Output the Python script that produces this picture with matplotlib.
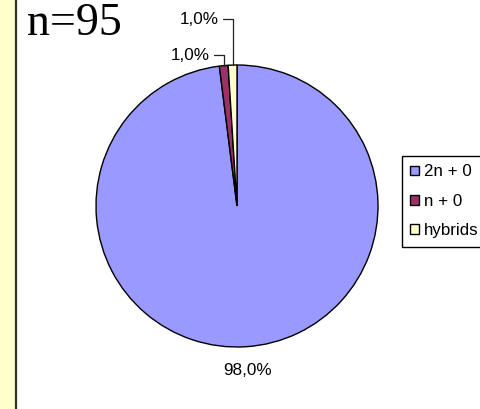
import matplotlib
matplotlib.use("Agg")
import matplotlib.pyplot as plt
import numpy as np
from matplotlib.patches import Rectangle, Patch
from matplotlib.lines import Line2D

categories = ["2n + 0", "n + 0", "hybrids"]
values = [98.0, 1.0, 1.0]
pct_labels = ["98,0%", "1,0%", "1,0%"]
title_text = "n=95"
colors = ["#9999FF", "#993366", "#FFFFCC"]

W, H = 481, 409
fig = plt.figure(figsize=(W / 100, H / 100), dpi=100)
fig.patch.set_facecolor("white")

# left strip
fig.patches.append(Rectangle((0, 0), 15 / W, 1, transform=fig.transFigure,
                             facecolor="#FFFFCC", edgecolor="none", zorder=0))
fig.lines.append(Line2D([15.8 / W, 15.8 / W], [0, 1], transform=fig.transFigure,
                        color="#333322", linewidth=1.6))

# pie axes
cx, cy, r = 237, 206, 141
ax = fig.add_axes([(cx - r) / W, 1 - (cy + r) / H, 2 * r / W, 2 * r / H])
wedges, _ = ax.pie(values, colors=colors, startangle=90, counterclock=False,
                   wedgeprops=dict(edgecolor="black", linewidth=1.0))
ax.set_xlim(-1, 1)
ax.set_ylim(-1, 1)
ax.set_aspect("equal")
ax.axis("off")

font = "Liberation Sans"
fs = 12.3

# labels
for i, w in enumerate(wedges):
    ang = np.deg2rad((w.theta1 + w.theta2) / 2)
    x, y = np.cos(ang), np.sin(ang)
    if i == 0:
        ax.text(1.17 * x, 1.17 * y, pct_labels[i], ha="center", va="center",
                fontsize=fs, family=font, clip_on=False)
    else:
        texty = 1.07 if i == 1 else 1.325
        textx = x - 0.10
        ax.annotate(pct_labels[i], xy=(x, y), xytext=(textx, texty),
                    ha="right", va="center", fontsize=fs, family=font,
                    annotation_clip=False,
                    arrowprops=dict(arrowstyle="-", color="#222222", lw=0.9,
                                    shrinkA=1, shrinkB=0,
                                    connectionstyle="angle,angleA=0,angleB=90,rad=0"))

# title
fig.text(27 / W, 1 - 35 / H, title_text, fontsize=33, family="Liberation Serif",
         ha="left", va="baseline")

# legend
handles = [Patch(facecolor=c, edgecolor="black", linewidth=1.0) for c in colors]
leg = fig.legend(handles, categories, loc="upper left",
                 bbox_to_anchor=(402 / W, 1 - 156 / H), bbox_transform=fig.transFigure,
                 prop=dict(family=font, size=12.2), frameon=True, fancybox=False,
                 handlelength=0.5, handleheight=0.5, handletextpad=0.3,
                 labelspacing=0.85, borderpad=0.5, borderaxespad=0, framealpha=1)
leg.get_frame().set_edgecolor("black")
leg.get_frame().set_linewidth(1.0)

fig.savefig("out.png", dpi=100)
